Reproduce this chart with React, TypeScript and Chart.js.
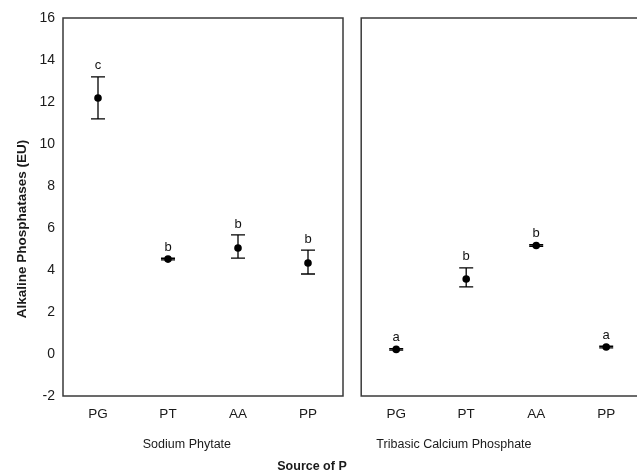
import React, { useEffect, useRef } from "react";
import { Chart, registerables } from "chart.js";

Chart.register(...registerables);

const categories = ["PG", "PT", "AA", "PP"];
const groups = ["Sodium Phytate", "Tribasic Calcium Phosphate"];
const sodiumMeans = [12.19, 4.52, 5.05, 4.33];
const sodiumLow = [11.2, 4.48, 4.57, 3.81];
const sodiumHigh = [13.2, 4.56, 5.67, 4.95];
const sodiumLetters = ["c", "b", "b", "b"];
const tribasicMeans = [0.22, 3.57, 5.17, 0.33];
const tribasicLow = [0.18, 3.2, 5.13, 0.29];
const tribasicHigh = [0.26, 4.1, 5.21, 0.37];
const tribasicLetters = ["a", "b", "b", "a"];
const yTicks = [-2, 0, 2, 4, 6, 8, 10, 12, 14, 16];
const xTitle = "Source of P";
const yTitle = "Alkaline Phosphatases (EU)";

const GAP = 0.26;
const PANEL = 4;
const FONT = "'Liberation Sans', Arial, sans-serif";

export default function App() {
  const ref = useRef<HTMLCanvasElement | null>(null);

  useEffect(() => {
    if (!ref.current) return;
    const offsets = [0, PANEL + GAP];
    const series = [
      { means: sodiumMeans, low: sodiumLow, high: sodiumHigh, letters: sodiumLetters },
      { means: tribasicMeans, low: tribasicLow, high: tribasicHigh, letters: tribasicLetters },
    ];
    const tickPositions: number[] = [];
    const tickLabels: string[] = [];
    offsets.forEach((o) =>
      categories.forEach((c, i) => {
        tickPositions.push(o + i + 0.5);
        tickLabels.push(c);
      })
    );

    const overlay = {
      id: "overlay",
      afterDatasetsDraw(chart: any) {
        const ctx = chart.ctx;
        const xs = chart.scales.x;
        const ys = chart.scales.y;
        const top = chart.chartArea.top;
        const bottom = chart.chartArea.bottom;
        ctx.save();
        // panel boxes
        ctx.strokeStyle = "#3a3a3a";
        ctx.lineWidth = 1.5;
        offsets.forEach((o) => {
          const l = xs.getPixelForValue(o);
          const r = xs.getPixelForValue(o + PANEL);
          ctx.strokeRect(l, top, r - l, bottom - top);
        });
        // error bars + letters
        ctx.strokeStyle = "#000";
        ctx.lineWidth = 1.3;
        ctx.fillStyle = "#111";
        ctx.font = `13px ${FONT}`;
        ctx.textAlign = "center";
        ctx.textBaseline = "middle";
        series.forEach((s, si) => {
          s.means.forEach((_, i) => {
            const px = xs.getPixelForValue(offsets[si] + i + 0.5);
            const hi = ys.getPixelForValue(s.high[i]);
            const lo = ys.getPixelForValue(s.low[i]);
            ctx.beginPath();
            ctx.moveTo(px, hi);
            ctx.lineTo(px, lo);
            ctx.moveTo(px - 7, hi);
            ctx.lineTo(px + 7, hi);
            ctx.moveTo(px - 7, lo);
            ctx.lineTo(px + 7, lo);
            ctx.stroke();
            ctx.fillText(s.letters[i], px, hi - 11);
          });
        });
        // group labels
        ctx.fillStyle = "#1a1a1a";
        ctx.font = `12.5px ${FONT}`;
        ctx.fillText(groups[0], xs.getPixelForValue(1.77), 445);
        ctx.fillText(groups[1], xs.getPixelForValue(5.585), 445);
        ctx.font = `bold 12.5px ${FONT}`;
        ctx.fillText(xTitle, 312, 467);
        // y title
        ctx.font = `bold 13.5px ${FONT}`;
        ctx.translate(22, 229);
        ctx.rotate(-Math.PI / 2);
        ctx.fillText(yTitle, 0, 0);
        ctx.restore();
      },
    };

    const chart = new Chart(ref.current, {
      type: "scatter",
      data: {
        datasets: series.map((s, si) => ({
          label: groups[si],
          data: s.means.map((m, i) => ({ x: offsets[si] + i + 0.5, y: m })),
          backgroundColor: "#000",
          borderWidth: 0,
          pointRadius: 3.8,
        })),
      },
      options: {
        animation: false,
        responsive: false,
        layout: { autoPadding: false, padding: { top: 18, left: 0, right: 0, bottom: 0 } },
        plugins: { legend: { display: false }, tooltip: { enabled: false } },
        scales: {
          x: {
            type: "linear",
            min: 0,
            max: 8.2,
            grid: { display: false, drawTicks: false },
            border: { display: false },
            afterBuildTicks: (scale: any) => {
              scale.ticks = tickPositions.map((v) => ({ value: v }));
            },
            afterFit: (scale: any) => {
              scale.height = 78;
              scale.paddingLeft = 0;
              scale.paddingRight = 0;
            },
            ticks: {
              autoSkip: false,
              maxRotation: 0,
              padding: 10,
              color: "#1a1a1a",
              font: { family: FONT, size: 13.5 },
              callback: (_v: any, i: number) => tickLabels[i],
            },
          },
          y: {
            min: -2,
            max: 16,
            grid: { display: false, drawTicks: false },
            border: { display: false },
            afterBuildTicks: (scale: any) => {
              scale.ticks = yTicks.map((v) => ({ value: v }));
            },
            afterFit: (scale: any) => {
              scale.width = 63;
            },
            ticks: {
              padding: 8,
              color: "#1a1a1a",
              font: { family: FONT, size: 14 },
            },
          },
        },
      },
      plugins: [overlay],
    });
    return () => chart.destroy();
  }, []);

  return (
    <div style={{ position: "absolute", left: 0, top: 0, width: 637, height: 474, background: "#fff" }}>
      <canvas ref={ref} width={637} height={474} style={{ display: "block" }} />
    </div>
  );
}
